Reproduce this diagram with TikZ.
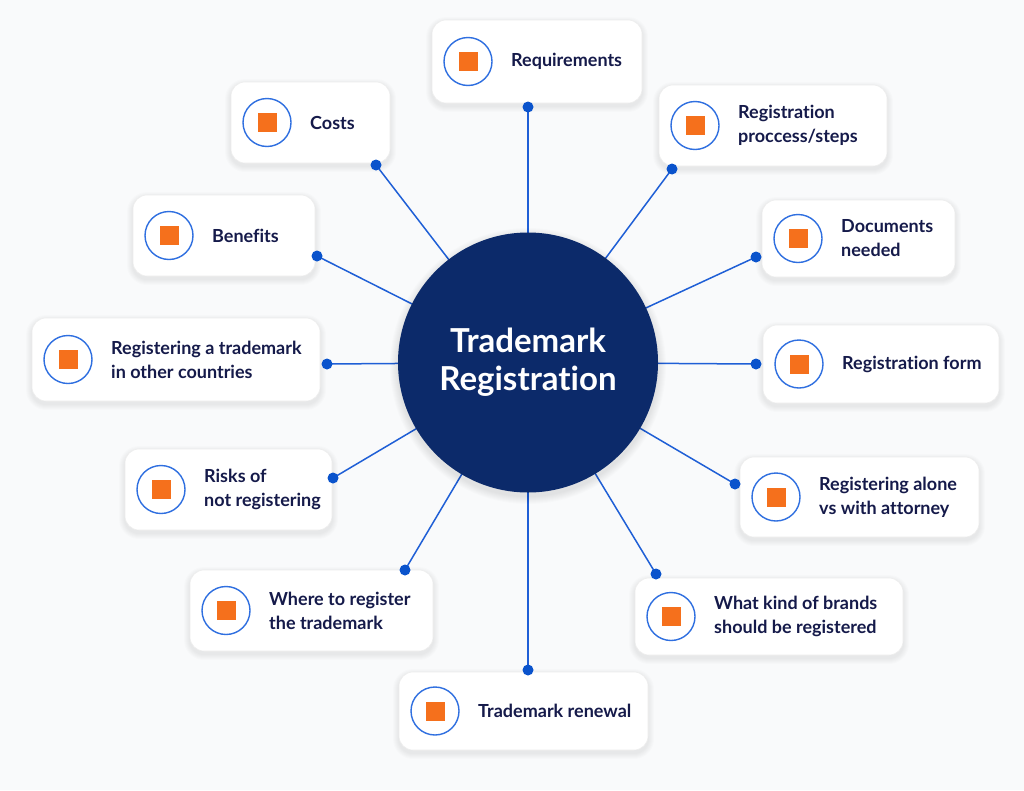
\documentclass[tikz,border=0pt]{standalone}
\usepackage{fontspec}
\setmainfont{Lato}[RawFeature={-liga;-clig;-dlig;-calt}]
\definecolor{bgc}{HTML}{F9FAFB}
\definecolor{navy}{HTML}{0C2A6A}
\definecolor{linec}{HTML}{1F5FD6}
\definecolor{dotc}{HTML}{0A53CC}
\definecolor{ringc}{HTML}{2F6FE0}
\definecolor{orng}{HTML}{F5701C}
\definecolor{txtc}{HTML}{151A4A}
\tikzset{
  card/.style={fill=white, draw=black!7, line width=0.6pt, rounded corners=14pt},
  shadowst/.style={fill=black, opacity=0.012},
  ring/.style={circle, draw=ringc, line width=1.4pt, fill=white, minimum size=48pt, inner sep=0pt},
  sq/.style={rectangle, fill=orng, minimum size=19pt, inner sep=0pt},
  lbl/.style={anchor=west, inner sep=0pt, align=left, text=txtc, font=\bfseries\fontsize{18}{24}\selectfont},
  hubst/.style={circle, fill=navy, minimum size=260pt, inner sep=0pt, text=white, align=center,
    font=\bfseries\fontsize{33}{38}\selectfont},
  conn/.style={draw=linec, line width=1.5pt},
  dotst/.style={circle, fill=dotc, minimum size=11pt, inner sep=0pt}
}
\newcommand\mkcard[6]{%
  \foreach \k in {1,...,6}{
    \fill[shadowst, rounded corners={14+\k}] ({#2-\k},{#3-\k+3}) rectangle ({#4+\k},{#5+\k+3});
  }
  \node[card, minimum width={#4-#2}, minimum height={#5-#3}] (#1) at ({(#2+#4)/2},{(#3+#5)/2}) {};
  \node[ring] (#1i) at ({#2+36},{(#3+#5)/2}) {};
  \node[sq] (#1s) at (#1i) {};
  \node[lbl] (#1t) at ({#2+79},{(#3+#5)/2}) {#6};
}
\begin{document}
\begin{tikzpicture}[x=1pt,y=-1pt]
\fill[bgc] (0,0) rectangle (1024,790);
\useasboundingbox (0,0) rectangle (1024,790);

\mkcard{c1}{432}{20}{642}{103}{Requirements}
\mkcard{c2}{231}{82}{390}{163}{Costs}
\mkcard{c3}{133}{195}{315}{276}{Benefits}
\mkcard{c4}{32}{318}{320}{401}{Registering a trademark\\in other countries}
\mkcard{c5}{125}{449}{332}{530}{Risks of\\not registering}
\mkcard{c6}{190}{570}{433}{651}{Where to register\\the trademark}
\mkcard{c7}{399}{672}{648}{750}{Trademark renewal}
\mkcard{c8}{635}{578}{903}{655}{What kind of brands\\should be registered}
\mkcard{c9}{740}{457}{979}{537}{Registering alone\\vs with attorney}
\mkcard{c10}{763}{325}{999}{403}{Registrat\kern0pt ion form}
\mkcard{c11}{762}{200}{955}{277}{Documents\\needed}
\mkcard{c12}{659}{85}{887}{166}{Registrat\kern0pt ion\\proccess/steps}

\coordinate (p1) at (528,107);
\coordinate (p2) at (376,165);
\coordinate (p3) at (317,256);
\coordinate (p4) at (327,364);
\coordinate (p5) at (333,478);
\coordinate (p6) at (405,570);
\coordinate (p7) at (528,670);
\coordinate (p8) at (656,574);
\coordinate (p9) at (735,484);
\coordinate (p10) at (756,364);
\coordinate (p11) at (756,257);
\coordinate (p12) at (672,169);

\foreach \i in {1,...,12}{
  \draw[conn] (p\i) -- (528,362.5);
}
\foreach \k in {1,...,8}{
  \fill[shadowst] (528,366) circle ({130+\k});
}
\node[hubst] (hub) at (528,362.5) {Trademark\\Registrat\kern0pt ion};
\foreach \i in {1,...,12}{
  \node[dotst] (d\i) at (p\i) {};
}
\end{tikzpicture}
\end{document}
